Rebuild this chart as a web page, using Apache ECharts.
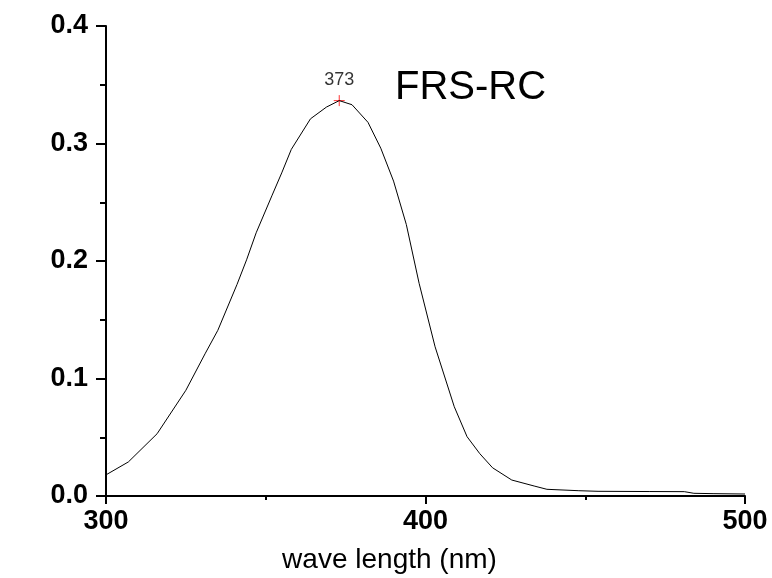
<!DOCTYPE html>
<html>
<head>
<meta charset="utf-8">
<script src="https://cdn.jsdelivr.net/npm/echarts@6/dist/echarts.min.js"></script>
<style>html,body{margin:0;padding:0;background:#fff}#c{width:772px;height:578px}</style>
</head>
<body>
<div id="c"></div>
<script>
const wavelengths = [300, 307, 316, 325, 331, 335, 341, 344, 347, 352, 355, 358, 364, 369, 373, 377, 382, 386, 390, 394, 398, 403, 409, 413, 417, 421, 427, 434, 438, 448, 454, 470, 481, 484, 490, 500];
const absorbance = [0.018, 0.029, 0.053, 0.090, 0.121, 0.141, 0.180, 0.201, 0.224, 0.256, 0.275, 0.295, 0.321, 0.331, 0.3365, 0.333, 0.318, 0.296, 0.268, 0.231, 0.181, 0.127, 0.076, 0.0505, 0.036, 0.024, 0.0136, 0.0085, 0.0057, 0.0045, 0.004, 0.0038, 0.0037, 0.0023, 0.002, 0.0017];
const peak = [373, 0.3365];
const peakLabel = '373';
const sampleName = 'FRS-RC';
const xTitle = 'wave length (nm)';
const yTitle = 'absosrbance';

const chart = echarts.init(document.getElementById('c'));
const F = '"Liberation Sans", Arial, sans-serif';
chart.setOption({
  animation: false,
  backgroundColor: '#fff',
  grid: {left: 106, right: 27, top: 26, bottom: 82, containLabel: false, outerBoundsMode: 'none'},
  xAxis: {
    type: 'value', min: 300, max: 500, interval: 100,
    name: xTitle, nameLocation: 'middle', nameGap: 50,
    nameTextStyle: {fontFamily: F, fontSize: 28, color: '#000', padding: [0, 72, 0, 0]},
    axisLine: {lineStyle: {color: '#000', width: 2}},
    axisTick: {show: true, length: 8, lineStyle: {color: '#000', width: 2}},
    minorTick: {show: true, splitNumber: 2, length: 4, lineStyle: {color: '#000', width: 2}},
    axisLabel: {fontFamily: F, fontSize: 27, fontWeight: 'bold', color: '#000', margin: 12},
    splitLine: {show: false}
  },
  yAxis: {
    type: 'value', min: 0, max: 0.4, interval: 0.1,
    name: yTitle, nameLocation: 'middle', nameGap: 61, nameRotate: 90,
    nameTextStyle: {fontFamily: F, fontSize: 28, color: '#000', padding: [0, 0, 47, 0]},
    axisLine: {lineStyle: {color: '#000', width: 2}},
    axisTick: {show: true, length: 10, lineStyle: {color: '#000', width: 2}},
    minorTick: {show: true, splitNumber: 2, length: 6, lineStyle: {color: '#000', width: 2}},
    axisLabel: {fontFamily: F, fontSize: 27, fontWeight: 'bold', color: '#000', margin: 18,
      formatter: v => v.toFixed(1)},
    splitLine: {show: false}
  },
  series: [
    {
      type: 'line',
      data: wavelengths.map((w, i) => [w, absorbance[i]]),
      showSymbol: false, symbol: 'none',
      lineStyle: {color: '#000', width: 1}
    },
    {
      type: 'scatter',
      data: [peak],
      symbol: 'path://M0 5H10M5 0V10',
      symbolSize: 11,
      itemStyle: {color: 'none', borderColor: '#ff0000', borderWidth: 1},
      label: {show: true, position: 'top', distance: 4, formatter: peakLabel,
        fontFamily: F, fontSize: 18, color: '#000', textBorderWidth: 0}
    }
  ],
  graphic: [{
    type: 'text', x: 395, y: 88,
    style: {text: sampleName, font: '40px "Liberation Sans", Arial, sans-serif', fill: '#000',
      textAlign: 'left', textVerticalAlign: 'middle'}
  }]
});
</script>
</body>
</html>
